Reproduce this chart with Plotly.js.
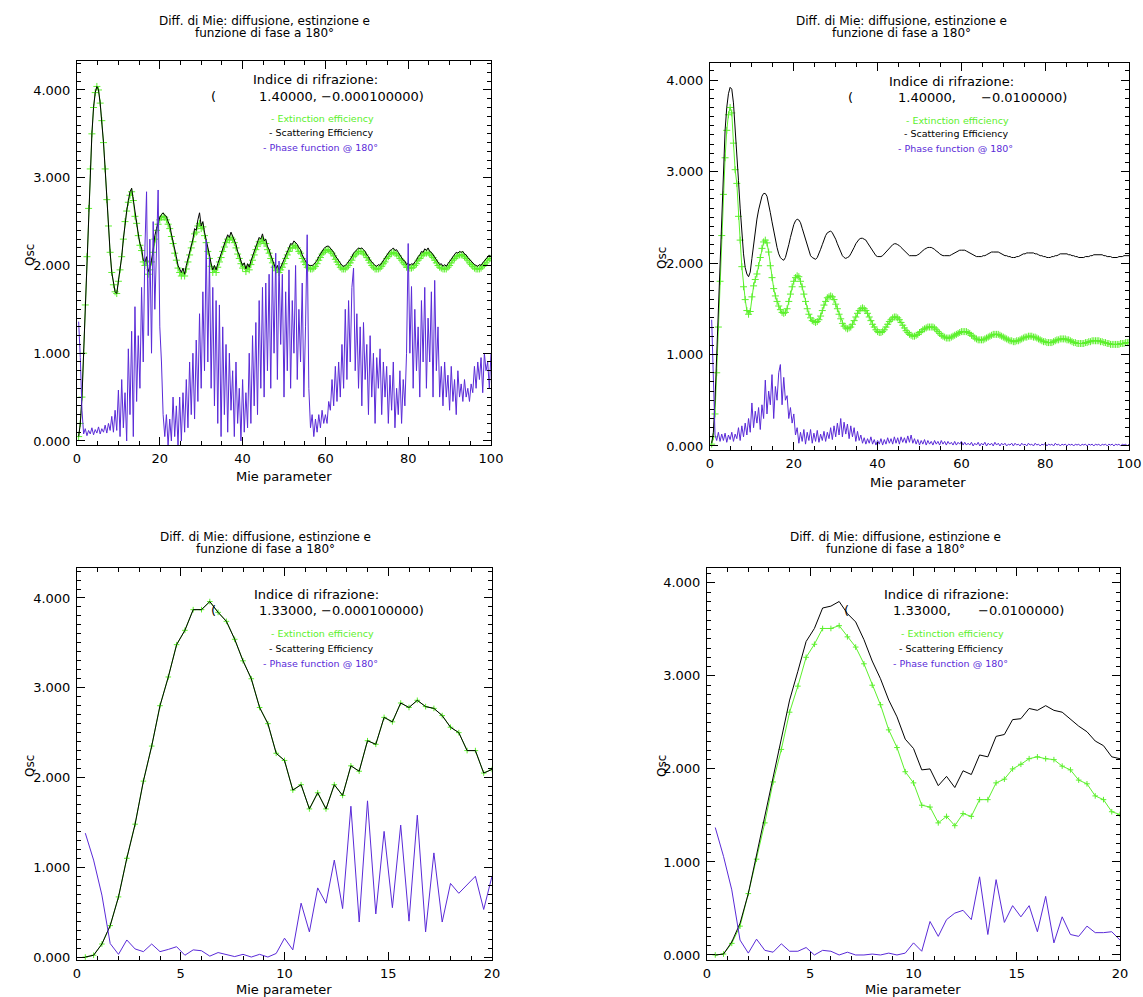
<!DOCTYPE html>
<html><head><meta charset="utf-8">
<script src="https://cdn.plot.ly/plotly-3.0.1.min.js"></script>
<style>html,body{margin:0;padding:0;background:#fff}</style>
</head><body><div id="chart" style="width:1143px;height:997px"></div>
<script>
// ---------------- DATA ----------------
// Mie parameter grid: first value and step (x = 0.4, 0.8, ... )
const X_FIRST = 0.4;
const X_STEP = 0.4;

const yTickValues = [0, 1, 2, 3, 4];
const yTickLabels = ['0.000', '1.000', '2.000', '3.000', '4.000'];
const xTickValuesWide = [0, 20, 40, 60, 80, 100];
const xTickLabelsWide = ['0', '20', '40', '60', '80', '100'];
const xTickValuesNarrow = [0, 5, 10, 15, 20];
const xTickLabelsNarrow = ['0', '5', '10', '15', '20'];

const titleLine1 = 'Diff. di Mie: diffusione, estinzione e';
const titleLine2 = 'funzione di fase a 180°';
const xTitle = 'Mie parameter';
const yTitle = 'Qsc';
const legendNames = ['Extinction efficiency', 'Scattering Efficiency', 'Phase function @ 180°'];

// Panel A: m = (1.40, -0.0001), x 0..100
const extA = [
0.05,0.2,0.5,1.0,1.55,2.1,2.65,3.1,3.5,3.8,
3.97,4.04,4.0,3.85,3.65,3.4,3.1,2.75,2.45,2.15,
1.92,1.78,1.7,1.68,1.82,1.95,2.1,2.3,2.5,2.62,
2.72,2.8,2.84,2.74,2.56,2.48,2.34,2.23,2.17,2.04,
2.0,2.05,1.9,1.95,2.04,2.15,2.3,2.4,2.47,2.52,
2.55,2.56,2.55,2.52,2.47,2.42,2.33,2.25,2.14,2.06,
1.97,1.92,1.88,1.92,1.88,1.96,2.04,2.12,2.2,2.27,
2.36,2.38,2.45,2.48,2.42,2.44,2.34,2.26,2.16,2.08,
1.99,1.92,1.96,1.92,1.98,2.04,2.09,2.16,2.21,2.26,
2.3,2.29,2.32,2.3,2.26,2.2,2.13,2.08,2.02,1.97,
1.99,1.93,1.98,1.95,2.01,2.06,2.12,2.18,2.22,2.27,
2.27,2.3,2.25,2.25,2.18,2.14,2.08,2.03,1.98,1.94,
1.96,1.92,1.95,1.98,2.02,2.08,2.12,2.16,2.2,2.2,
2.23,2.22,2.2,2.16,2.14,2.08,2.04,2.01,1.98,1.97,
1.96,1.96,1.97,1.99,2.02,2.06,2.09,2.13,2.15,2.17,
2.18,2.18,2.16,2.14,2.11,2.07,2.04,2.01,1.98,1.96,
1.96,1.96,1.98,2.0,2.03,2.06,2.1,2.12,2.14,2.16,
2.16,2.16,2.14,2.12,2.09,2.06,2.03,2.0,1.98,1.96,
1.96,1.96,1.97,1.99,2.02,2.04,2.08,2.1,2.13,2.14,
2.15,2.14,2.13,2.11,2.08,2.06,2.03,2.01,1.98,1.98,
1.97,1.97,1.98,2.0,2.02,2.06,2.08,2.11,2.12,2.14,
2.14,2.15,2.13,2.11,2.09,2.06,2.03,2.0,1.98,1.97,
1.96,1.96,1.96,1.98,2.0,2.03,2.06,2.08,2.1,2.11,
2.12,2.12,2.12,2.1,2.08,2.06,2.03,2.01,1.99,1.97,
1.96,1.96,1.96,1.97,1.99,2.01,2.03,2.06,2.08,2.08];
const scaA = [
0.05,0.2,0.5,1.0,1.55,2.1,2.65,3.1,3.5,3.8,
3.97,4.04,4.0,3.85,3.65,3.4,3.1,2.75,2.45,2.15,
1.92,1.78,1.7,1.68,1.82,1.95,2.1,2.3,2.5,2.62,
2.74,2.84,2.88,2.75,2.58,2.5,2.36,2.25,2.2,2.06,
2.04,2.1,1.93,1.98,2.06,2.18,2.34,2.42,2.5,2.55,
2.58,2.6,2.57,2.56,2.5,2.46,2.36,2.28,2.17,2.1,
2.0,1.96,1.92,1.97,1.9,2.0,2.08,2.15,2.25,2.3,
2.42,2.4,2.52,2.6,2.45,2.5,2.38,2.3,2.2,2.12,
2.02,1.95,2.0,1.95,2.02,2.08,2.12,2.2,2.25,2.3,
2.35,2.32,2.38,2.33,2.3,2.24,2.16,2.12,2.05,2.0,
2.03,1.96,2.02,1.98,2.05,2.1,2.16,2.22,2.26,2.32,
2.3,2.36,2.28,2.3,2.22,2.18,2.12,2.06,2.02,1.96,
2.0,1.95,1.98,2.02,2.06,2.12,2.16,2.2,2.25,2.24,
2.28,2.26,2.24,2.2,2.18,2.12,2.08,2.05,2.02,2.0,
2.0,2.0,2.01,2.03,2.06,2.1,2.13,2.17,2.19,2.21,
2.22,2.22,2.2,2.18,2.15,2.11,2.08,2.05,2.02,2.0,
1.99,2.0,2.02,2.04,2.07,2.1,2.14,2.16,2.18,2.2,
2.19,2.2,2.18,2.16,2.12,2.1,2.06,2.04,2.01,2.0,
1.99,2.01,2.0,2.03,2.06,2.08,2.12,2.14,2.17,2.18,
2.2,2.17,2.18,2.15,2.12,2.1,2.06,2.05,2.01,2.03,
2.0,2.02,2.01,2.04,2.06,2.1,2.12,2.16,2.15,2.19,
2.17,2.2,2.16,2.15,2.12,2.1,2.06,2.04,2.01,2.02,
1.99,2.01,1.99,2.02,2.04,2.07,2.1,2.12,2.15,2.14,
2.16,2.15,2.16,2.13,2.12,2.09,2.07,2.04,2.02,2.01,
2.0,1.99,2.01,2.0,2.03,2.05,2.07,2.1,2.12,2.1];
const phaseA = [
1.36,0.95,0.35,0.08,0.14,0.06,0.12,0.08,0.15,0.07,
0.13,0.09,0.16,0.08,0.14,0.1,0.18,0.09,0.2,0.12,
0.28,0.1,0.35,0.12,0.58,0.05,0.7,0.15,0.55,0.0,
1.05,0.3,1.25,0.05,1.53,0.45,1.2,0.6,1.75,0.9,
2.2,2.84,1.2,2.3,1.0,2.5,1.5,2.2,2.86,1.3,
0.9,0.3,0.05,0.3,-0.05,0.25,0.0,0.5,0.05,0.4,
-0.05,0.5,0.0,0.55,0.1,0.7,0.15,0.9,0.3,1.0,
0.25,1.15,0.45,1.45,0.6,1.7,0.8,2.29,0.9,2.1,
0.6,1.75,0.4,1.6,0.2,1.55,0.05,1.3,0.3,1.1,
0.1,1.0,0.35,0.8,0.05,0.9,0.2,0.6,0.0,0.7,
0.1,0.55,0.15,1.0,0.2,1.2,0.4,1.35,0.3,1.6,
0.6,1.75,0.5,1.8,0.8,1.9,0.6,2.0,1.0,2.14,
0.7,2.05,1.1,1.9,0.5,1.7,0.8,1.95,0.6,1.6,
1.0,2.0,0.7,1.5,0.9,1.8,0.5,1.3,2.35,0.6,
0.15,0.3,0.05,0.25,0.1,0.3,0.15,0.35,0.2,0.3,
0.2,0.45,0.35,0.7,0.4,0.85,0.45,0.9,0.5,1.1,
0.6,1.5,0.7,1.6,0.9,1.75,1.97,0.8,1.45,0.6,
1.3,0.4,1.35,0.7,1.1,0.3,1.2,0.5,1.0,0.2,
0.95,0.6,1.05,0.3,0.9,0.5,0.85,0.2,0.75,0.35,
0.9,0.15,0.6,0.3,0.8,0.2,0.7,0.4,1.0,2.25,
1.0,1.76,0.6,1.5,0.8,1.3,0.5,1.6,0.9,1.75,
0.6,1.4,0.9,1.7,0.5,1.83,0.8,1.3,0.5,0.85,
0.4,0.9,0.5,0.75,0.35,0.85,0.45,0.7,0.3,0.8,
0.5,0.65,0.45,0.7,0.5,0.6,0.45,0.65,0.55,0.85,
0.6,0.9,0.7,0.95,0.55,1.0,0.8,0.9,0.6,1.0];

// Panel B: m = (1.40, -0.01), x 0..100
const extB = [
0.02,0.1,0.35,0.8,1.3,1.8,2.3,2.75,3.15,3.45,
3.62,3.7,3.64,3.31,3.02,2.87,2.51,2.25,1.96,1.74,
1.6,1.48,1.44,1.47,1.63,1.75,1.82,1.88,1.97,2.06,
2.16,2.23,2.25,2.22,2.12,1.97,1.84,1.72,1.64,1.58,
1.53,1.49,1.46,1.45,1.46,1.5,1.58,1.66,1.74,1.8,
1.84,1.86,1.85,1.8,1.74,1.66,1.58,1.5,1.44,1.4,
1.37,1.36,1.35,1.36,1.38,1.42,1.48,1.54,1.58,1.62,
1.63,1.64,1.63,1.6,1.55,1.5,1.44,1.39,1.34,1.31,
1.29,1.28,1.29,1.3,1.33,1.37,1.41,1.45,1.48,1.5,
1.51,1.5,1.48,1.45,1.41,1.37,1.33,1.3,1.27,1.25,
1.24,1.24,1.25,1.27,1.3,1.33,1.36,1.38,1.4,1.41,
1.41,1.4,1.38,1.35,1.32,1.29,1.26,1.24,1.22,1.21,
1.2,1.2,1.21,1.22,1.24,1.25,1.27,1.28,1.29,1.3,
1.3,1.3,1.3,1.29,1.27,1.25,1.23,1.21,1.2,1.19,
1.18,1.18,1.18,1.19,1.2,1.21,1.22,1.23,1.24,1.25,
1.25,1.25,1.25,1.24,1.23,1.21,1.2,1.18,1.17,1.16,
1.16,1.16,1.16,1.17,1.18,1.19,1.2,1.21,1.22,1.22,
1.22,1.22,1.21,1.2,1.19,1.18,1.17,1.16,1.15,1.15,
1.14,1.14,1.15,1.15,1.16,1.17,1.18,1.19,1.19,1.2,
1.2,1.2,1.19,1.19,1.18,1.17,1.16,1.15,1.14,1.14,
1.13,1.13,1.13,1.13,1.14,1.15,1.16,1.16,1.17,1.17,
1.17,1.17,1.16,1.16,1.15,1.14,1.13,1.13,1.12,1.12,
1.12,1.12,1.12,1.13,1.13,1.14,1.14,1.15,1.15,1.15,
1.15,1.15,1.14,1.14,1.13,1.13,1.12,1.12,1.11,1.11,
1.11,1.11,1.11,1.11,1.12,1.12,1.12,1.13,1.13,1.13];
const scaB = [
0.03,0.15,0.5,1.0,1.55,2.1,2.6,3.05,3.45,3.7,
3.85,3.92,3.9,3.75,3.5,3.2,2.9,2.6,2.3,2.1,
1.95,1.88,1.85,1.9,2.05,2.2,2.35,2.48,2.58,2.67,
2.73,2.76,2.76,2.73,2.65,2.55,2.45,2.35,2.25,2.17,
2.1,2.06,2.04,2.03,2.06,2.12,2.2,2.28,2.36,2.42,
2.46,2.48,2.47,2.44,2.38,2.32,2.25,2.18,2.12,2.08,
2.06,2.05,2.04,2.06,2.1,2.15,2.2,2.26,2.3,2.33,
2.34,2.35,2.33,2.3,2.26,2.21,2.16,2.12,2.08,2.06,
2.05,2.06,2.07,2.1,2.13,2.17,2.21,2.24,2.26,2.27,
2.27,2.26,2.25,2.22,2.19,2.16,2.13,2.1,2.08,2.07,
2.07,2.07,2.08,2.1,2.12,2.15,2.17,2.19,2.2,2.21,
2.21,2.2,2.19,2.17,2.15,2.13,2.11,2.09,2.08,2.08,
2.08,2.08,2.08,2.09,2.1,2.12,2.14,2.15,2.16,2.17,
2.17,2.17,2.16,2.15,2.13,2.12,2.1,2.09,2.08,2.08,
2.08,2.08,2.08,2.09,2.1,2.11,2.12,2.13,2.14,2.14,
2.14,2.14,2.13,2.12,2.11,2.1,2.09,2.08,2.07,2.07,
2.07,2.07,2.08,2.08,2.09,2.1,2.11,2.12,2.12,2.12,
2.12,2.12,2.11,2.1,2.09,2.08,2.08,2.07,2.07,2.06,
2.06,2.06,2.07,2.07,2.08,2.09,2.1,2.1,2.11,2.11,
2.11,2.11,2.11,2.1,2.1,2.09,2.08,2.08,2.07,2.07,
2.06,2.06,2.06,2.07,2.07,2.08,2.08,2.09,2.1,2.1,
2.1,2.1,2.1,2.09,2.09,2.08,2.08,2.07,2.07,2.06,
2.06,2.06,2.06,2.07,2.07,2.07,2.08,2.08,2.09,2.09,
2.09,2.09,2.09,2.09,2.08,2.08,2.07,2.07,2.07,2.06,
2.06,2.06,2.06,2.07,2.07,2.07,2.08,2.08,2.08,2.08];
const phaseB = [
1.38,0.7,0.12,0.06,0.15,0.05,0.13,0.06,0.14,0.04,
0.12,0.07,0.15,0.05,0.13,0.08,0.2,0.06,0.22,0.1,
0.25,0.12,0.3,0.15,0.47,0.2,0.38,0.25,0.42,0.18,
0.45,0.3,0.72,0.35,0.6,0.45,0.78,0.3,0.65,0.5,
0.8,0.89,0.45,0.75,0.5,0.55,0.3,0.42,0.25,0.35,
0.12,0.2,0.03,0.15,0.05,0.18,0.02,0.15,0.06,0.18,
0.03,0.14,0.05,0.17,0.04,0.13,0.06,0.16,0.05,0.15,
0.08,0.2,0.07,0.22,0.1,0.25,0.12,0.3,0.1,0.26,
0.13,0.24,0.08,0.22,0.1,0.2,0.05,0.16,0.06,0.12,
0.03,0.09,0.02,0.08,0.03,0.1,0.02,0.07,0.01,0.06,
0.02,0.08,0.01,0.07,0.02,0.09,0.03,0.08,0.02,0.1,
0.03,0.09,0.02,0.1,0.04,0.09,0.03,0.11,0.04,0.12,
0.03,0.08,0.02,0.07,0.01,0.06,0.02,0.07,0.01,0.06,
0.02,0.05,0.01,0.06,0.02,0.05,0.01,0.06,0.02,0.05,
0.01,0.05,0.02,0.04,0.01,0.05,0.01,0.04,0.02,0.05,
0.01,0.04,0.01,0.03,0.01,0.04,0.0,0.03,0.01,0.04,
0.0,0.03,0.01,0.04,0.0,0.03,0.01,0.03,0.0,0.04,
0.01,0.03,0.0,0.03,0.01,0.03,0.0,0.02,0.01,0.03,
0.0,0.03,0.01,0.02,0.0,0.03,0.01,0.02,0.0,0.03,
0.01,0.02,0.0,0.03,0.01,0.02,0.0,0.02,0.01,0.03,
0.0,0.02,0.01,0.02,0.0,0.03,0.01,0.02,0.0,0.02,
0.01,0.02,0.0,0.02,0.01,0.02,0.0,0.02,0.01,0.02,
0.0,0.02,0.01,0.02,0.0,0.02,0.01,0.02,0.0,0.02,
0.01,0.02,0.0,0.02,0.01,0.02,0.0,0.02,0.01,0.02,
0.0,0.02,0.01,0.02,0.0,0.02,0.01,0.02,0.0,0.02];

// Panel C: m = (1.33, -0.0001), x 0..20
const extC = [
0.0,0.02,0.145,0.35,0.67,1.10,1.48,1.96,2.35,2.80,
3.12,3.48,3.64,3.87,3.87,3.96,3.84,3.74,3.54,3.30,
3.10,2.78,2.60,2.27,2.19,1.86,1.92,1.65,1.83,1.65,
1.92,1.80,2.13,2.07,2.41,2.37,2.67,2.62,2.83,2.78,
2.86,2.79,2.77,2.69,2.56,2.50,2.30,2.30,2.05,2.09];
const scaC = [
0.0,0.02,0.145,0.35,0.67,1.10,1.48,1.96,2.35,2.80,
3.12,3.48,3.64,3.87,3.87,3.96,3.84,3.74,3.54,3.30,
3.10,2.78,2.60,2.27,2.19,1.86,1.92,1.65,1.83,1.65,
1.92,1.80,2.13,2.07,2.41,2.37,2.67,2.62,2.83,2.78,
2.86,2.79,2.77,2.69,2.56,2.50,2.30,2.30,2.05,2.09];
const phaseC = [
1.38,1.08,0.69,0.15,0.03,0.19,0.09,0.06,0.145,0.06,
0.085,0.115,0.02,0.08,0.07,0.01,0.05,0.03,0.005,0.03,
0.0,0.03,0.0,0.04,0.21,0.08,0.60,0.28,0.77,0.60,
1.08,0.54,1.68,0.39,1.74,0.48,1.40,0.55,1.47,0.40,
1.58,0.28,1.16,0.39,0.82,0.71,0.80,0.90,0.53,0.90];

// Panel D: m = (1.33, -0.01), x 0..20
const extD = [
0.0,0.01,0.125,0.31,0.66,1.03,1.42,1.86,2.21,2.61,
2.89,3.20,3.34,3.51,3.51,3.54,3.42,3.31,3.13,2.90,
2.69,2.42,2.23,1.97,1.85,1.61,1.59,1.42,1.49,1.39,
1.52,1.49,1.67,1.67,1.85,1.89,2.00,2.05,2.11,2.13,
2.11,2.10,2.03,1.99,1.88,1.84,1.71,1.67,1.54,1.51];
const scaD = [
0.0,0.01,0.14,0.34,0.66,1.08,1.47,1.90,2.31,2.74,
3.05,3.37,3.51,3.73,3.75,3.80,3.67,3.58,3.39,3.16,
2.97,2.74,2.56,2.32,2.22,1.99,2.00,1.82,1.92,1.80,
1.98,1.94,2.15,2.13,2.35,2.37,2.53,2.54,2.65,2.63,
2.68,2.63,2.61,2.53,2.46,2.40,2.30,2.25,2.13,2.11];
const phaseD = [
1.37,1.06,0.70,0.16,0.02,0.17,0.05,0.03,0.12,0.04,
0.04,0.08,0.0,0.05,0.04,0.0,0.03,0.0,0.0,0.01,
0.0,0.02,0.0,0.02,0.13,0.04,0.36,0.20,0.38,0.45,
0.48,0.38,0.84,0.22,0.81,0.35,0.53,0.41,0.53,0.25,
0.63,0.13,0.41,0.22,0.20,0.31,0.24,0.24,0.25,0.16];

const refrA = ['1.40000, −0.000100000)'];
const refrB = ['1.40000,', '−0.0100000)'];
const refrC = ['1.33000, −0.000100000)'];
const refrD = ['1.33000,', '−0.0100000)'];

// ---------------- STYLE / LAYOUT ----------------
const W = 1143, H = 997;
const FONT = 'DejaVu Sans';
const GREEN = '#5cf02c', BLACK = '#000000', PURPLE = '#5a2ad8';
const fx = p => p / W, fy = p => 1 - p / H;

const panels = [
  {ax: '', ext: extA, sca: scaA, ph: phaseA, xl: 77, xr: 491, yt: 61, yb: 445, yr: [-0.046, 4.33], wide: true, mk: 5},
  {ax: '2', ext: extB, sca: scaB, ph: phaseB, xl: 710, xr: 1129, yt: 63, yb: 450, yr: [-0.044, 4.186], wide: true, mk: 5},
  {ax: '3', ext: extC, sca: scaC, ph: phaseC, xl: 77, xr: 492, yt: 568, yb: 960, yr: [-0.033, 4.334], wide: false, mk: 4},
  {ax: '4', ext: extD, sca: scaD, ph: phaseD, xl: 707, xr: 1120, yt: 568, yb: 960, yr: [-0.054, 4.16], wide: false, mk: 4}
];

const traces = [];
const layout = {
  width: W, height: H, margin: {l: 0, r: 0, t: 0, b: 0},
  paper_bgcolor: '#fff', plot_bgcolor: '#fff', showlegend: false,
  font: {family: FONT, color: '#000'}, annotations: []
};

panels.forEach(p => {
  const xa = 'x' + p.ax, ya = 'y' + p.ax;
  traces.push({x0: X_FIRST, dx: X_STEP, y: p.ext, xaxis: xa, yaxis: ya, type: 'scatter', mode: 'lines+markers',
    name: legendNames[0], line: {color: GREEN, width: 1},
    marker: {symbol: 'cross-thin-open', size: p.mk, color: GREEN, line: {color: GREEN, width: 1}}});
  traces.push({x0: X_FIRST, dx: X_STEP, y: p.sca, xaxis: xa, yaxis: ya, type: 'scatter', mode: 'lines',
    name: legendNames[1], line: {color: BLACK, width: 1}});
  traces.push({x0: X_FIRST, dx: X_STEP, y: p.ph, xaxis: xa, yaxis: ya, type: 'scatter', mode: 'lines',
    name: legendNames[2], line: {color: PURPLE, width: 1}});

  const common = {ticks: 'inside', tickwidth: 1, tickcolor: '#000', mirror: 'ticks', showline: true,
    linecolor: '#000', linewidth: 1, showgrid: false, zeroline: false, fixedrange: true,
    tickfont: {family: FONT, size: 13, color: '#000'}};
  layout['xaxis' + p.ax] = Object.assign({}, common, {
    domain: [fx(p.xl), fx(p.xr)], range: p.wide ? [0, 100] : [0, 20], anchor: ya,
    tickmode: 'array', tickvals: p.wide ? xTickValuesWide : xTickValuesNarrow,
    ticktext: p.wide ? xTickLabelsWide : xTickLabelsNarrow, ticklen: 8, ticklabelstandoff: 1,
    minor: {dtick: p.wide ? 5 : 1, tick0: 0, ticks: 'inside', ticklen: 4, tickcolor: '#000', showgrid: false}
  });
  layout['yaxis' + p.ax] = Object.assign({}, common, {
    domain: [fy(p.yb), fy(p.yt)], range: p.yr, anchor: xa,
    tickmode: 'array', tickvals: yTickValues, ticktext: yTickLabels, ticklen: 8, ticklabelstandoff: 3,
    minor: {dtick: 0.1, tick0: 0, ticks: 'inside', ticklen: 4, tickcolor: '#000', showgrid: false}
  });
});

function note(x, y, text, size, color, xanchor, extra) {
  return Object.assign({xref: 'paper', yref: 'paper', x: fx(x), y: fy(y), text: text, showarrow: false,
    xanchor: xanchor || 'left', yanchor: 'middle', borderpad: 0,
    font: {family: FONT, size: size, color: color || '#000'}}, extra || {});
}

const A = layout.annotations;
// titles
[[264, 21], [901, 21], [265, 537], [895, 537]].forEach(([cx, y]) => {
  A.push(note(cx, y, titleLine1, 12, '#000', 'center'));
  A.push(note(cx, y + 12, titleLine2, 12, '#000', 'center'));
});
// axis titles
[[284, 476], [918, 482], [284, 989], [913, 989]].forEach(([cx, y]) => A.push(note(cx, y, xTitle, 13, '#000', 'center')));
[[30, 255], [662, 258], [30, 766], [662, 766]].forEach(([x, y]) => A.push(note(x, y, yTitle, 12, '#000', 'center', {textangle: -90})));

// refraction index text
const RF = 13;
A.push(note(252, 80, 'Indice di rifrazione:', RF));
A.push(note(210, 96, '(', RF));
A.push(note(258, 96, refrA[0], RF));

A.push(note(888, 81, 'Indice di rifrazione:', RF));
A.push(note(847, 97, '(', RF));
A.push(note(897, 97, refrB[0], RF));
A.push(note(980, 97, refrB[1], RF));

A.push(note(253, 594, 'Indice di rifrazione:', RF));
A.push(note(210, 610, '(', RF));
A.push(note(258, 610, refrC[0], RF));

A.push(note(883, 594, 'Indice di rifrazione:', RF));
A.push(note(843, 610, '(', RF));
A.push(note(892, 610, refrD[0], RF));
A.push(note(977, 610, refrD[1], RF));

// legend lines
const legendSpots = [
  {x: [270, 268, 262], y: [118, 133, 148]},
  {x: [905, 903, 897], y: [120, 134, 149]},
  {x: [270, 268, 262], y: [633, 648, 663]},
  {x: [900, 898, 892], y: [633, 648, 663]}
];
const legendColors = [GREEN, BLACK, PURPLE];
legendSpots.forEach(s => {
  for (let i = 0; i < 3; i++) {
    A.push(note(s.x[i], s.y[i], '- ' + legendNames[i], 9.5, legendColors[i]));
  }
});

Plotly.newPlot('chart', traces, layout, {staticPlot: true, displayModeBar: false});
</script>
</body></html>
